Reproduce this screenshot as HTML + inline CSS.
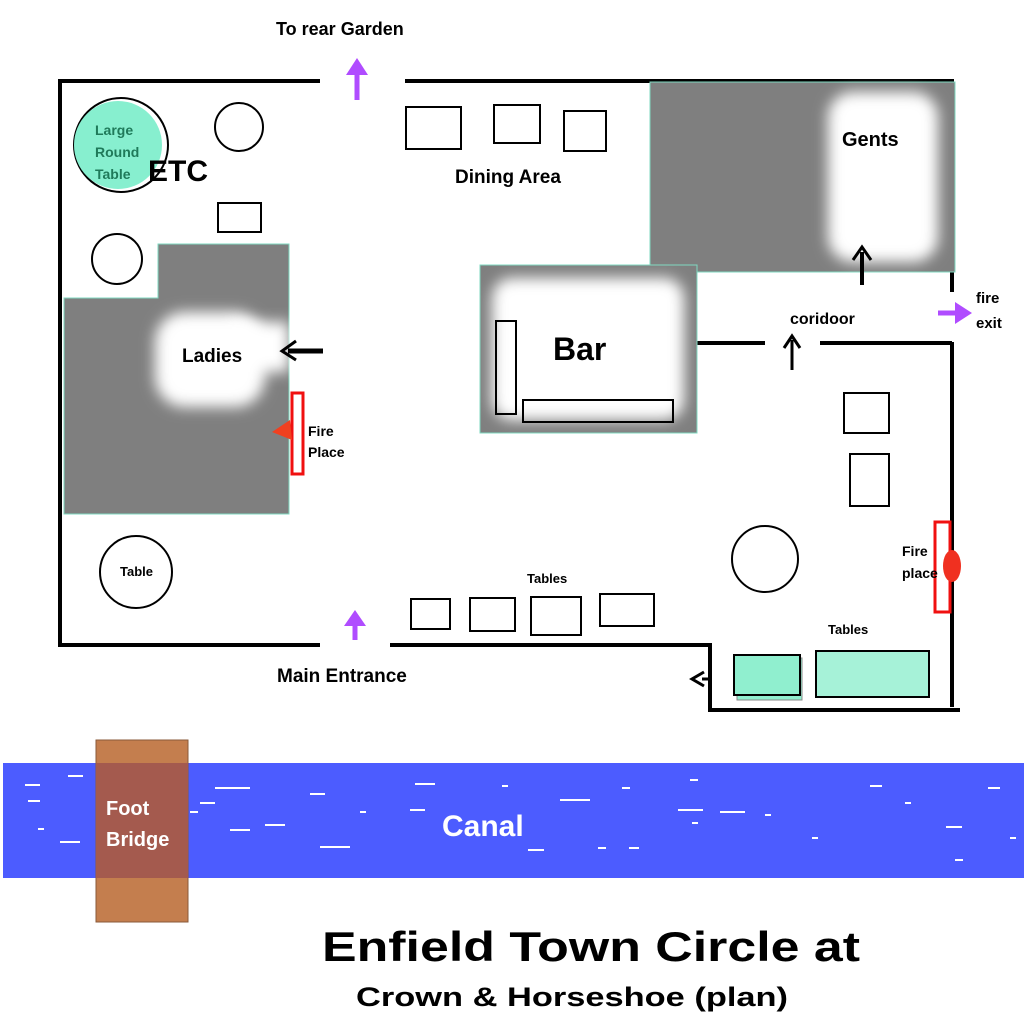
<!DOCTYPE html>
<html><head><style>
body{margin:0;background:#fff}
svg{display:block}
text{font-family:"Liberation Sans",sans-serif;font-weight:bold}
</style></head><body>
<svg width="1024" height="1028" viewBox="0 0 1024 1028" xmlns="http://www.w3.org/2000/svg">
<defs>
<filter id="bl" x="-30%" y="-30%" width="160%" height="160%"><feGaussianBlur stdDeviation="7"/></filter>
</defs>
<g stroke="#000" stroke-width="4" fill="none">
<path d="M320 81 H60 V645 H320"/>
<path d="M405 81 H952 V292"/>
<path d="M390 645 H710 V710 H960"/>
<path d="M952 342 V707"/>
<path d="M697 343 H765 M820 343 H952"/>
</g>
<rect x="650" y="82" width="305" height="190" fill="#7f7f7f" stroke="#7fd9c0" stroke-width="1"/>
<rect x="828" y="92" width="110" height="170" rx="25" fill="#fff" filter="url(#bl)"/>
<text x="842" y="146" font-size="20">Gents</text>
<path d="M862 285 V252" stroke="#000" stroke-width="4"/><path d="M853 260 L862 247 L871 260" stroke="#000" stroke-width="3" fill="none"/>
<rect x="480" y="265" width="217" height="168" fill="#7f7f7f" stroke="#7fd9c0" stroke-width="1"/>
<rect x="492" y="278" width="192" height="142" rx="20" fill="#fff" filter="url(#bl)"/>
<rect x="496" y="321" width="20" height="93" fill="none" stroke="#000" stroke-width="2"/>
<rect x="523" y="400" width="150" height="22" fill="none" stroke="#000" stroke-width="2"/>
<text x="553" y="360" font-size="32">Bar</text>
<path d="M64 298 H158 V244 H289 V514 H64 Z" fill="#7f7f7f" stroke="#7fd9c0" stroke-width="1"/>
<rect x="155" y="312" width="110" height="95" rx="30" fill="#fff" filter="url(#bl)"/>
<rect x="230" y="322" width="59" height="50" fill="#fff" filter="url(#bl)"/>
<text x="182" y="362" font-size="19">Ladies</text>
<path d="M323 351 H288" stroke="#000" stroke-width="5"/><path d="M296 341 L282 351 L296 360" stroke="#000" stroke-width="3" fill="none"/>
<rect x="292" y="393" width="11" height="81" fill="none" stroke="#f01010" stroke-width="3"/>
<path d="M272 432 L290 420 L292 440 Z" fill="#f04020"/>
<text x="308" y="436" font-size="14">Fire</text>
<text x="308" y="457" font-size="14">Place</text>
<circle cx="121" cy="145" r="47" fill="#fff" stroke="#000" stroke-width="2"/>
<circle cx="118" cy="145" r="44" fill="#87efcf"/>
<text x="95" y="135" font-size="14" fill="#1f7a5a">Large</text>
<text x="95" y="157" font-size="14" fill="#1f7a5a">Round</text>
<text x="95" y="179" font-size="14" fill="#1f7a5a">Table</text>
<text x="148" y="181" font-size="30">ETC</text>
<circle cx="239" cy="127" r="24" fill="none" stroke="#000" stroke-width="2"/>
<rect x="218" y="203" width="43" height="29" fill="none" stroke="#000" stroke-width="2"/>
<circle cx="117" cy="259" r="25" fill="none" stroke="#000" stroke-width="2"/>
<circle cx="136" cy="572" r="36" fill="none" stroke="#000" stroke-width="2"/>
<text x="120" y="576" font-size="13">Table</text>
<rect x="406" y="107" width="55" height="42" fill="none" stroke="#000" stroke-width="2"/>
<rect x="494" y="105" width="46" height="38" fill="none" stroke="#000" stroke-width="2"/>
<rect x="564" y="111" width="42" height="40" fill="none" stroke="#000" stroke-width="2"/>
<text x="455" y="183" font-size="19">Dining Area</text>
<text x="276" y="35" font-size="18">To rear Garden</text>
<path d="M357 100 V72" stroke="#b04cff" stroke-width="5"/><path d="M346 75 L357 58 L368 75 Z" fill="#b04cff"/>
<rect x="411" y="599" width="39" height="30" fill="none" stroke="#000" stroke-width="2"/>
<rect x="470" y="598" width="45" height="33" fill="none" stroke="#000" stroke-width="2"/>
<rect x="531" y="597" width="50" height="38" fill="none" stroke="#000" stroke-width="2"/>
<rect x="600" y="594" width="54" height="32" fill="none" stroke="#000" stroke-width="2"/>
<text x="527" y="583" font-size="13">Tables</text>
<path d="M355 640 V623" stroke="#b04cff" stroke-width="5"/><path d="M344 626 L355 610 L366 626 Z" fill="#b04cff"/>
<text x="277" y="682" font-size="19">Main Entrance</text>
<text x="790" y="324" font-size="16">coridoor</text>
<path d="M792 370 V340" stroke="#000" stroke-width="3"/><path d="M784 348 L792 336 L800 348" stroke="#000" stroke-width="3" fill="none"/>
<path d="M938 313 H958" stroke="#b04cff" stroke-width="5"/><path d="M955 302 L972 313 L955 324 Z" fill="#b04cff"/>
<text x="976" y="303" font-size="15">fire</text>
<text x="976" y="328" font-size="15">exit</text>
<rect x="844" y="393" width="45" height="40" fill="none" stroke="#000" stroke-width="2"/>
<rect x="850" y="454" width="39" height="52" fill="none" stroke="#000" stroke-width="2"/>
<circle cx="765" cy="559" r="33" fill="none" stroke="#000" stroke-width="2"/>
<rect x="935" y="522" width="15" height="90" fill="none" stroke="#f01010" stroke-width="3"/>
<ellipse cx="952" cy="566" rx="9" ry="16" fill="#f03020"/>
<text x="902" y="556" font-size="14">Fire</text>
<text x="902" y="578" font-size="14">place</text>
<text x="828" y="634" font-size="13">Tables</text>
<rect x="737" y="658" width="65" height="42" fill="#90efcf" stroke="#888" stroke-width="1"/>
<rect x="734" y="655" width="66" height="40" fill="#90efcf" stroke="#000" stroke-width="2"/>
<rect x="816" y="651" width="113" height="46" fill="#a6f2d8" stroke="#000" stroke-width="2"/>
<path d="M712 679 H702" stroke="#000" stroke-width="3"/><path d="M704 672 L692 679 L704 686" stroke="#000" stroke-width="3" fill="none"/>
<rect x="3" y="763" width="1021" height="115" fill="#4c5cff"/>
<g stroke="#fff" stroke-width="2">
<path d="M25 785h15M68 776h15M28 801h12M215 788h35M200 803h15M310 794h15M415 784h20M502 786h6M560 800h30M622 788h8M678 810h25M720 812h25M870 786h12M905 803h6M988 788h12M230 830h20M265 825h20M320 847h30M410 810h15M528 850h16M598 848h8M629 848h10M692 823h6M812 838h6M946 827h16M38 829h6M60 842h20M190 812h8M360 812h6M765 815h6M1010 838h6M955 860h8M690 780h8"/>
</g>
<rect x="96" y="740" width="92" height="182" fill="#c47e4e" stroke="#8a5a3a" stroke-width="1"/>
<rect x="96" y="763" width="92" height="115" fill="#a45a4e"/>
<text x="106" y="815" font-size="20" fill="#fff">Foot</text>
<text x="106" y="846" font-size="20" fill="#fff">Bridge</text>
<text x="442" y="836" font-size="30" fill="#fff">Canal</text>
<text x="322" y="961" font-size="42" textLength="538" lengthAdjust="spacingAndGlyphs">Enfield Town Circle  at</text>
<text x="356" y="1006" font-size="27" textLength="432" lengthAdjust="spacingAndGlyphs">Crown &amp; Horseshoe (plan)</text>
</svg>
</body></html>
